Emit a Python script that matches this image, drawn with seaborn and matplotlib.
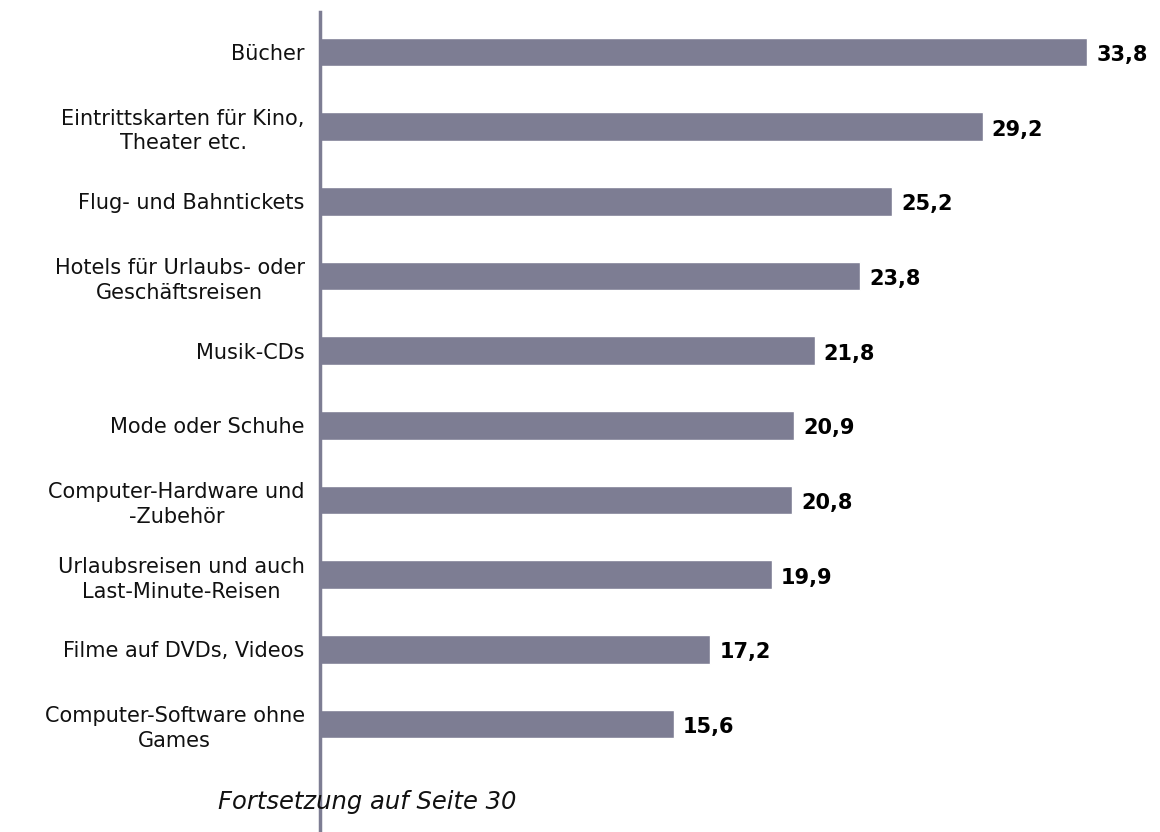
import matplotlib
matplotlib.use("Agg")
import matplotlib.pyplot as plt
import seaborn as sns
import pandas as pd

categories = [
    "Bücher",
    "Eintrittskarten für Kino,\nTheater etc.",
    "Flug- und Bahntickets",
    "Hotels für Urlaubs- oder\nGeschäftsreisen",
    "Musik-CDs",
    "Mode oder Schuhe",
    "Computer-Hardware und\n-Zubehör",
    "Urlaubsreisen und auch\nLast-Minute-Reisen",
    "Filme auf DVDs, Videos",
    "Computer-Software ohne\nGames",
]
values = [33.8, 29.2, 25.2, 23.8, 21.8, 20.9, 20.8, 19.9, 17.2, 15.6]
value_labels = ["33,8", "29,2", "25,2", "23,8", "21,8", "20,9", "20,8", "19,9", "17,2", "15,6"]
footnote = "Fortsetzung auf Seite 30"

bar_color = "#7d7d93"

sns.set_theme(style="white")
plt.rcParams["font.family"] = ["DejaVu Sans"]

df = pd.DataFrame({"Kategorie": categories, "Wert": values})

fig = plt.figure(figsize=(11.6, 8.32), dpi=100)
ax = fig.add_axes([320 / 1160, 0.0, 817 / 1160, 1 - 12 / 832])

sns.barplot(data=df, x="Wert", y="Kategorie", orient="h", color=bar_color,
            saturation=1, width=0.385, ax=ax)

ax.set_xlim(0, 36)
ax.set_ylim(10.445, -0.536)

for i, (v, lab) in enumerate(zip(values, value_labels)):
    ax.text(v + 0.4, i + 0.04, lab, va="center", ha="left", fontsize=15,
            fontweight="bold", color="black")

ax.set_xlabel("")
ax.set_ylabel("")
ax.set_xticks([])
ax.tick_params(axis="y", length=0, pad=11, labelsize=15, labelcolor="#111111")
for lab in ax.get_yticklabels():
    lab.set_horizontalalignment("right")
    lab.set_multialignment("center")
    lab.set_linespacing(1.3)

for side in ["top", "right", "bottom"]:
    ax.spines[side].set_visible(False)
ax.spines["left"].set_color(bar_color)
ax.spines["left"].set_linewidth(2.5)

fig.text(218 / 1160, 1 - 802 / 832, footnote, fontsize=17.5, fontstyle="italic",
         ha="left", va="center", color="#111111")

fig.savefig("out.png", dpi=100, facecolor="white")
